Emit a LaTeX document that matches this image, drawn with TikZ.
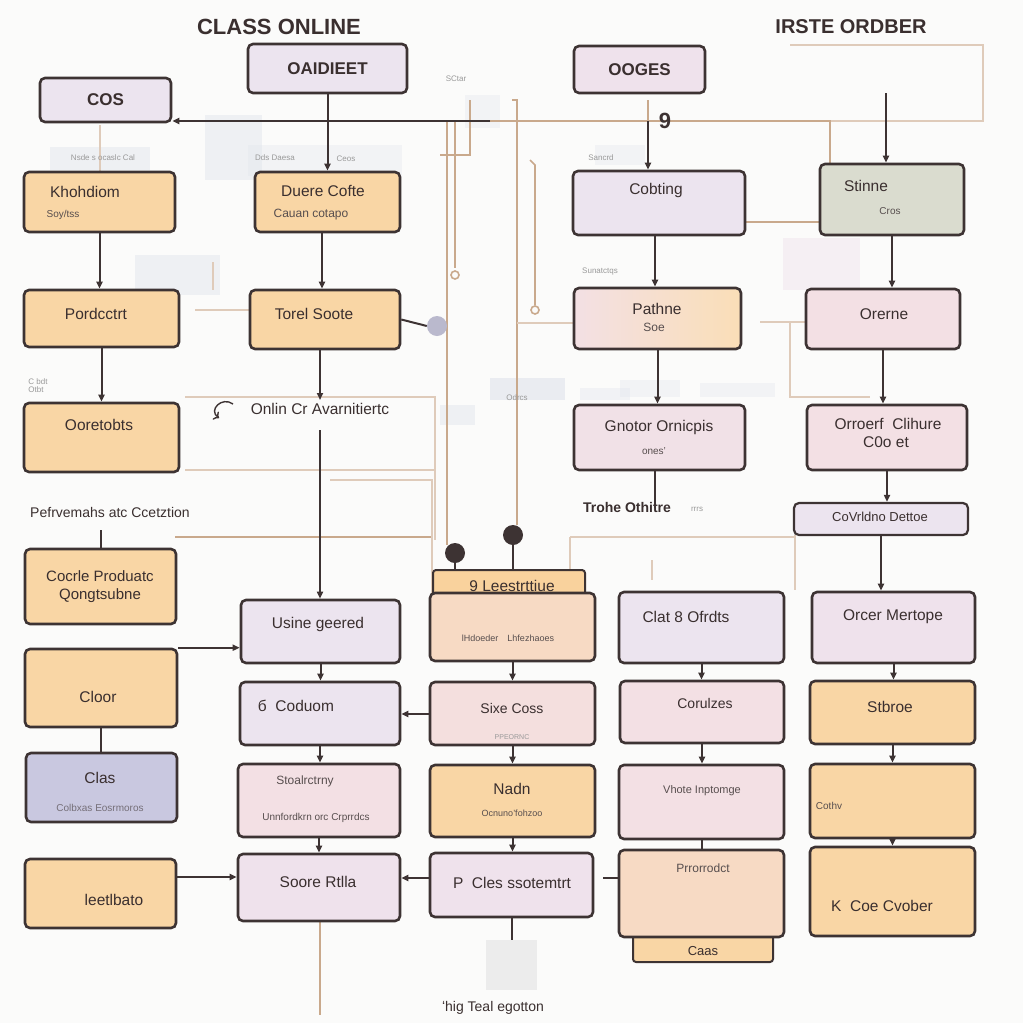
\documentclass[tikz,border=0pt]{standalone}
\usepackage{fontspec}
\setmainfont{Liberation Sans}
\usetikzlibrary{arrows.meta,fit,calc}
\definecolor{dk}{HTML}{3D3333}
\definecolor{txt}{HTML}{3A2F2F}
\definecolor{tan}{HTML}{C9A98C}
\definecolor{org}{HTML}{F9D6A5}
\definecolor{lav}{HTML}{ECE4EF}
\definecolor{plav}{HTML}{EFE2EC}
\definecolor{pnk}{HTML}{F3E0E4}
\definecolor{pch}{HTML}{F7DAC4}
\definecolor{grn}{HTML}{DADCCF}
\definecolor{blav}{HTML}{C9C8E0}
\definecolor{ghost}{HTML}{DFE3EC}
\definecolor{bg}{HTML}{FBFBFA}
\newcommand\myfs[1]{\fontsize{#1}{#1}\selectfont}
\begin{document}
\begin{tikzpicture}[x=1pt,y=-1pt,
  box/.style={draw=dk, line width=2.6pt, rounded corners=5pt, inner sep=0pt},
  tabbox/.style={draw=dk, line width=2pt, rounded corners=3pt, inner sep=0pt},
  lbl/.style={text=txt, inner sep=0pt, font=\myfs{15.5}},
  hdr/.style={text=txt, inner sep=0pt, font=\myfs{17}\bfseries},
  sub/.style={text=txt!85, inner sep=0pt, font=\myfs{10}},
  tiny/.style={text=gray!80, inner sep=0pt, font=\myfs{8}},
  conn/.style={draw=dk, line width=2pt, -{Triangle[length=7pt,width=6pt]}},
  plain/.style={draw=dk, line width=2pt},
  tline/.style={draw=tan, line width=1.6pt},
  fline/.style={draw=tan!60, line width=1.2pt},
  ghostr/.style={fill=ghost, draw=none, opacity=0.45}
]
\useasboundingbox (0,0) rectangle (1023,1023);
\fill[bg] (0,0) rectangle (1023,1023);

% faded background shapes
\fill[ghostr] (205,115) rectangle (262,180);
\fill[ghostr] (135,255) rectangle (220,295);
\fill[ghostr] (50,147) rectangle (150,170);
\fill[ghostr, opacity=0.3] (248,145) rectangle (402,176);
\fill[ghostr, opacity=0.6] (490,378) rectangle (565,400);
\fill[ghostr] (440,405) rectangle (475,425);
\fill[ghostr, opacity=0.35] (580,388) rectangle (630,400);
\fill[ghostr, opacity=0.3] (620,380) rectangle (680,397);
\fill[ghostr, opacity=0.3] (700,383) rectangle (775,397);
\fill[plav, opacity=0.45] (783,238) rectangle (860,290);
\fill[ghostr, opacity=0.3] (595,145) rectangle (645,165);
\fill[ghostr, opacity=0.3] (465,95) rectangle (500,128);

% tan background lines
\draw[fline] (790,45) -- (983,45) -- (983,121) -- (830,121);
\draw[tline] (490,121) -- (830,121) -- (830,222) -- (745,222);
\draw[tline] (447,121) -- (447,545);
\draw[tline] (455,121) -- (455,268);
\draw[tline] (455,275) circle (4);
\draw[tline] (470,100) -- (470,155) -- (440,155);
\draw[tline] (512,100) -- (517,100) -- (517,525);
\draw[tline] (530,160) -- (535,165) -- (535,305);
\draw[tline] (535,310) circle (4);
\draw[fline] (517,323) -- (574,323);
\draw[fline] (760,322) -- (806,322);
\draw[fline] (790,322) -- (790,397) -- (870,397);
\draw[fline] (185,397) -- (435,397) -- (435,540);
\draw[fline] (185,470) -- (435,470);
\draw[fline] (195,310) -- (250,310);
\draw[tline] (175,537) -- (432,537);
\draw[fline] (330,480) -- (432,480) -- (432,600);
\draw[fline] (570,537) -- (795,537);
\draw[fline] (570,537) -- (570,580);
\draw[fline] (652,560) -- (652,580);
\draw[fline] (795,535) -- (795,590);
\draw[fline] (100,125) -- (100,172);
\draw[tline] (320,921) -- (320,1015);
\draw[fline] (213,262) -- (213,290);

% boxes
\node[box, fill=lav,  fit={(40,78) (171,122)}] (cos) {};
\node[box, fill=lav,  fit={(248,44) (407,93)}] (oai) {};
\node[box, fill=plav, fit={(574,46) (705,93)}] (oog) {};
\node[box, fill=org,  fit={(24,172) (175,232)}] (kho) {};
\node[box, fill=org,  fit={(255,172) (400,232)}] (due) {};
\node[box, fill=lav,  fit={(573,171) (745,235)}] (cob) {};
\node[box, fill=grn,  fit={(820,164) (964,235)}] (sti) {};
\node[box, fill=org,  fit={(24,290) (179,347)}] (por) {};
\node[box, fill=org,  fit={(250,290) (400,349)}] (tor) {};
\node[box, left color=pnk, right color=org!80, fit={(574,288) (741,349)}] (pat) {};
\node[box, fill=pnk,  fit={(806,289) (960,349)}] (ore) {};
\node[box, fill=org,  fit={(24,403) (179,472)}] (oor) {};
\node[box, fill=pnk!70!lav, fit={(574,405) (745,470)}] (gno) {};
\node[box, fill=pnk,  fit={(807,405) (967,470)}] (orr) {};
\node[box, fill=lav,  line width=2.2pt, fit={(794,503) (968,535)}] (cov) {};
\node[box, fill=org,  fit={(25,549) (176,624)}] (cpr) {};
\node[tabbox, fill=org!95!orange, fit={(433,570) (585,598)}] (lee) {};
\node[box, fill=pch,  fit={(430,593) (595,661)}] (lhd) {};
\node[box, fill=lav,  fit={(619,592) (784,663)}] (cla8) {};
\node[box, fill=plav, fit={(812,592) (975,663)}] (orc) {};
\node[box, fill=org,  fit={(25,649) (177,727)}] (clo) {};
\node[box, fill=lav,  fit={(241,600) (400,663)}] (usi) {};
\node[box, fill=lav,  fit={(240,682) (400,745)}] (cod) {};
\node[box, fill=pnk!80!pch, fit={(430,682) (595,745)}] (sue) {};
\node[box, fill=pnk,  fit={(620,681) (784,743)}] (cor) {};
\node[box, fill=org,  fit={(810,681) (975,744)}] (stb) {};
\node[box, fill=blav, fit={(26,753) (177,822)}] (clas) {};
\node[box, fill=pnk,  fit={(238,764) (400,837)}] (sto) {};
\node[box, fill=org,  fit={(430,765) (595,837)}] (nad) {};
\node[box, fill=pnk,  fit={(619,765) (784,839)}] (vho) {};
\node[box, fill=org,  fit={(810,764) (975,838)}] (cth) {};
\node[box, fill=org,  fit={(25,859) (176,928)}] (lto) {};
\node[box, fill=plav, fit={(238,854) (400,921)}] (soo) {};
\node[box, fill=plav, fit={(430,853) (593,917)}] (cle) {};
\node[tabbox, fill=org, fit={(633,930) (773,962)}] (caa) {};
\node[box, fill=pch,  fit={(619,850) (784,937)}] (pnr) {};
\node[box, fill=org,  fit={(810,847) (975,936)}] (kco) {};
\node[fill=gray!15, draw=none, inner sep=0pt, fit={(486,940) (537,990)}] (gsq) {};

% circles
\node[circle, fill=dk, minimum size=20pt, inner sep=0pt] (c1) at (455,553) {};
\node[circle, fill=dk, minimum size=20pt, inner sep=0pt] (c2) at (513,535) {};
\node[circle, fill=blav!80!gray, minimum size=20pt, inner sep=0pt] (c3) at (437,326) {};

% titles and texts
\node[text=txt, font=\myfs{22}\bfseries] (t1) at (279,27) {CLASS ONLINE};
\node[text=txt, font=\myfs{20}\bfseries] (t2) at (851,27) {IRSTE ORDBER};
\node[hdr] (tcos) at (cos) {COS};
\node[hdr] (toai) at (oai) {OAIDIEET};
\node[hdr] (toog) at (oog) {OOGES};
\node[lbl] (tkho) at (85,192) {Khohdiom};
\node[sub] (tkho2) at (63,215) {Soy/tss};
\node[lbl] (tdue) at (323,191) {Duere Cofte};
\node[sub, font=\myfs{12}] (tdue2) at (311,215) {Cauan cotapo};
\node[lbl] (tcob) at (656,190) {Cobting};
\node[lbl] (tsti) at (866,186) {Stinne};
\node[sub] (tsti2) at (890,211) {Cros};
\node[lbl] (tpor) at (96,314) {Pordcctrt};
\node[lbl] (ttor) at (314,314) {Torel Soote};
\node[lbl] (tpat) at (657,309) {Pathne};
\node[sub, font=\myfs{12}] (tpat2) at (654,327) {Soe};
\node[lbl] (tore) at (884,314) {Orerne};
\node[lbl] (toor) at (99,425) {Ooretobts};
\node[lbl] (tonl) at (320,409) {Onlin Cr Avarnitiertc};
\node[lbl] (tgno) at (659,427) {Gnotor Ornicpis};
\node[sub] (tgno2) at (654,451) {ones'};
\node[lbl] (torr) at (888,424) {Orroerf\ \ Clihure};
\node[lbl] (torr2) at (886,442) {C0o et};
\node[lbl, font=\myfs{14}\bfseries] (ttro) at (627,507) {Trohe Othitre};
\node[tiny] (ttro2) at (697,509) {rrrs};
\node[lbl, font=\myfs{13}] (tcov) at (880,517) {CoVrldno Dettoe};
\node[lbl, font=\myfs{14}] (tpef) at (110,512) {Pefrvemahs atc Ccetztion};
\node[lbl, align=center, font=\myfs{15}] (tcpr) at (100,587) {Cocrle Produatc\\[3pt]Qongtsubne};
\node[lbl] (tlee) at (512,586) {9 Leestrttiue};
\node[sub, font=\myfs{9}] (tlhd) at (508,638) {lHdoeder\quad Lhfezhaoes};
\node[lbl] (tcla8) at (686,617) {Clat 8 Ofrdts};
\node[lbl] (torc) at (893,617) {Orcer Mertope};
\node[lbl] (tclo) at (98,697) {Cloor};
\node[lbl] (tusi) at (318,624) {Usine geered};
\node[lbl] (tcod) at (296,706) {б\ \ Coduom};
\node[lbl, font=\myfs{14}] (tsue) at (512,708) {Sixe Coss};
\node[tiny, font=\myfs{7}] (tsue2) at (512,737) {PPEORNC};
\node[lbl, font=\myfs{14}] (tcor) at (705,703) {Corulzes};
\node[lbl] (tstb) at (890,707) {Stbroe};
\node[lbl] (tclas) at (100,778) {Clas};
\node[sub, text=blav!40!dk] (tclas2) at (100,808) {Colbxas Eosrmoros};
\node[sub, font=\myfs{12}] (tsto) at (305,781) {Stoalrctrny};
\node[sub] (tsto2) at (316,818) {Unnfordkrn orc Crprrdcs};
\node[lbl] (tnad) at (512,789) {Nadn};
\node[sub, font=\myfs{9}] (tnad2) at (512,813) {Ocnuno'fohzoo};
\node[sub, font=\myfs{11}] (tvho) at (702,791) {Vhote Inptomge};
\node[sub] (tcth) at (829,806) {Cothv};
\node[lbl] (tlto) at (114,900) {leetlbato};
\node[lbl] (tsoo) at (318,882) {Soore Rtlla};
\node[lbl] (tcle) at (512,883) {P\ \ Cles ssotemtrt};
\node[sub, font=\myfs{12}] (tpnr) at (703,868) {Prrorrodct};
\node[lbl, font=\myfs{13}] (tcaa) at (703,951) {Caas};
\node[lbl] (tkco) at (882,906) {K\ \ Coe Cvober};
\node[lbl, font=\myfs{14}] (tbot) at (493,1008) {ʻhig Teal egotton};

% small gray labels
\node[tiny] (s1) at (103,158) {Nsde s ocaslc Cal};
\node[tiny] (s2) at (275,158) {Dds Daesa};
\node[tiny] (s3) at (346,159) {Ceos};
\node[tiny] (s4) at (456,79) {SCtar};
\node[tiny] (s5) at (601,158) {Sancrd};
\node[tiny] (s6) at (600,272) {Sunatctqs};
\node[tiny, align=left] (s7) at (38,386) {C bdt\\Otbt};
\node[tiny] (s8) at (517,398) {Odrcs};

% dark connectors
\coordinate (h1) at (490,121);
\draw[conn] (h1) -- (h1 -| cos.east);
\draw[conn] (oai.south) -- (oai.south |- due.north);
\draw[conn] (kho.south) -- (kho.south |- por.north);
\draw[conn] (por.south) -- (por.south |- oor.north);
\coordinate (d1) at (322,232);
\draw[conn] (d1) -- (d1 |- tor.north);
\coordinate (tb) at (320,400);
\draw[conn] (tb |- tor.south) -- (tb);
\coordinate (tb2) at (320,430);
\draw[conn, line width=1.6pt] (tb2) -- (tb2 |- usi.north);
\draw[plain] (tor.east) -- (c3.west);
\draw[plain] (cpr.north) -- ++(0,-18);
\draw[conn] (clo.north east) -- (clo.north east -| usi.west);
\draw[plain] (clo.south) -- (clo.south |- clas.north);
\draw[conn] (usi.south) -- (usi.south |- cod.north);
\draw[conn] (cod.south) -- (cod.south |- sto.north);
\draw[conn] (sto.south) -- (sto.south |- soo.north);
\coordinate (lt) at (176,877);
\draw[conn] (lt) -- (lt -| soo.west);
\coordinate (ct) at (430,878);
\draw[conn] (ct) -- (ct -| soo.east);
\coordinate (st) at (430,714);
\draw[conn] (st) -- (st -| cod.east);
\coordinate (pt) at (619,878);
\draw[plain] (pt) -- (603,878);
\draw[plain] (cle.south) -- (cle.south |- gsq.north);
\draw[plain] (c1.south) -- (c1.south |- lee.north);
\draw[plain] (c2.south) -- (c2.south |- lee.north);
\draw[conn] (lhd.south) -- (lhd.south |- sue.north);
\draw[conn] (sue.south) -- (sue.south |- nad.north);
\draw[conn] (nad.south) -- (nad.south |- cle.north);
\draw[conn] (cla8.south) -- (cla8.south |- cor.north);
\draw[conn] (cor.south) -- (cor.south |- vho.north);
\draw[plain] (vho.south) -- (vho.south |- pnr.north);
\draw[conn] (orc.south) -- (orc.south |- stb.north);
\draw[conn] (stb.south) -- (stb.south |- cth.north);
\draw[conn] (cth.south) -- (cth.south |- kco.north);
\coordinate (cb) at (648,100);
\draw[tline] (cb) -- (648,121);
\coordinate (cb2) at (648,121);
\draw[conn] (cb2) -- (cb2 |- cob.north);
\node[text=dk, font=\myfs{22}\bfseries] (nine) at (665,121) {9};
\coordinate (p1) at (655,235);
\draw[conn] (p1) -- (p1 |- pat.north);
\draw[conn] (pat.south) -- (pat.south |- gno.north);
\coordinate (so) at (886,93);
\draw[conn] (so) -- (so |- sti.north);
\draw[conn] (sti.south) -- (sti.south |- ore.north);
\draw[conn] (ore.south) -- (ore.south |- orr.north);
\draw[conn] (orr.south) -- (orr.south |- cov.north);
\draw[conn] (cov.south) -- (cov.south |- orc.north);
\coordinate (g1) at (655,470);
\draw[plain, line width=1.2pt] (g1) -- ++(0,38);
\draw[dk, line width=1.4pt, ->] (233,404) .. controls (222,396) and (208,410) .. (219,418);
\end{tikzpicture}
\end{document}
